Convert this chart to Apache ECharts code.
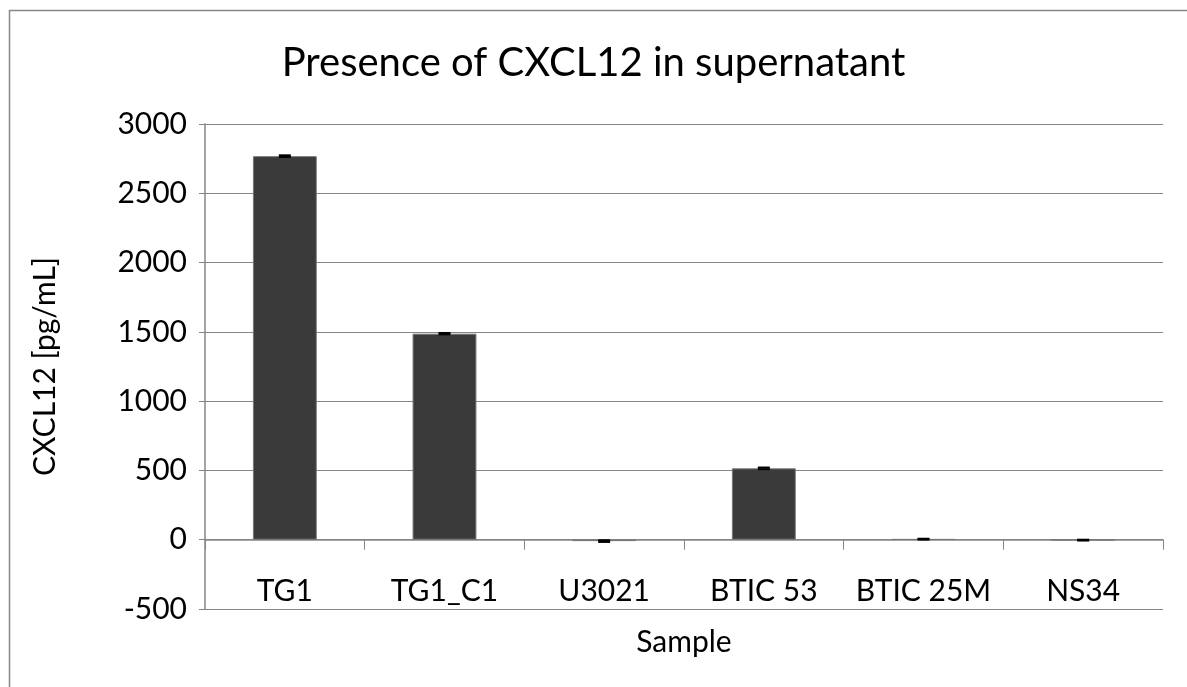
<!DOCTYPE html>
<html>
<head>
<meta charset="utf-8">
<script src="https://cdn.jsdelivr.net/npm/echarts@6/dist/echarts.min.js"></script>
<style>
  html, body { margin: 0; padding: 0; background: #fff; }
  #chart { width: 1187px; height: 687px; }
</style>
</head>
<body>
<div id="chart"></div>
<script>
var samples = ['TG1', 'TG1_C1', 'U3021', 'BTIC 53', 'BTIC 25M', 'NS34'];
var cxcl12 = [2768, 1487, -10, 515, 4, -3];
var errors = [6, 5, 6, 6, 3, 3];
var yTicks = { min: -500, max: 3000, interval: 500 };

var dom = document.getElementById('chart');
var myChart = echarts.init(dom);
var font = 'Lato, "Open Sans", sans-serif';

option = {
    animation: false,
    title: {
        text: 'Presence of CXCL12 in supernatant',
        left: 'center',
        top: 38,
        textStyle: { fontFamily: font, fontSize: 40, fontWeight: 'normal', color: '#000' }
    },
    graphic: [{
        type: 'rect',
        shape: { x: 9.5, y: 10.5, width: 1190, height: 700 },
        style: { fill: 'none', stroke: '#888', lineWidth: 1.5 },
        silent: true
    }],
    grid: { left: 205, right: 24, top: 124, bottom: 78, outerBoundsMode: 'none' },
    xAxis: {
        type: 'category',
        data: samples,
        name: 'Sample',
        nameLocation: 'middle',
        nameGap: 18,
        nameTextStyle: { fontFamily: font, fontSize: 30, color: '#000' },
        axisLine: { onZero: true, lineStyle: { color: '#868686', width: 1.5 } },
        axisTick: { show: true, length: 10, lineStyle: { color: '#868686' } },
        axisLabel: { interval: 0, fontFamily: font, fontSize: 30, color: '#000', margin: -33 }
    },
    yAxis: {
        type: 'value',
        min: yTicks.min,
        max: yTicks.max,
        interval: yTicks.interval,
        name: 'CXCL12 [pg/mL]',
        nameLocation: 'middle',
        nameGap: 145,
        nameTextStyle: { fontFamily: font, fontSize: 30, color: '#000' },
        axisLine: { show: true, lineStyle: { color: '#868686', width: 1.5 } },
        axisTick: { show: true, length: 6, lineStyle: { color: '#868686' } },
        axisLabel: { fontFamily: font, fontSize: 30, color: '#000', margin: 18, formatter: function (v) { return String(v); } },
        splitLine: { lineStyle: { color: '#868686', width: 1.2 } }
    },
    series: [{
        type: 'bar',
        data: cxcl12,
        barWidth: '40%',
        itemStyle: { color: '#3a3a3a', borderColor: '#777', borderWidth: 1 }
    }, {
        type: 'custom',
        data: cxcl12.map(function (v, i) { return [i, v, errors[i]]; }),
        z: 5,
        renderItem: function (params, api) {
            var x = api.value(0);
            var v = api.value(1);
            var e = api.value(2);
            var hi = api.coord([x, v + e]);
            var lo = api.coord([x, v - e]);
            var half = 6;
            return {
                type: 'group',
                children: [
                    { type: 'line', shape: { x1: hi[0] - half, y1: hi[1], x2: hi[0] + half, y2: hi[1] }, style: { stroke: '#000', lineWidth: 2 } },
                    { type: 'line', shape: { x1: lo[0] - half, y1: lo[1], x2: lo[0] + half, y2: lo[1] }, style: { stroke: '#000', lineWidth: 2 } },
                    { type: 'line', shape: { x1: hi[0], y1: hi[1], x2: lo[0], y2: lo[1] }, style: { stroke: '#000', lineWidth: 1 } }
                ]
            };
        }
    }]
};
myChart.setOption(option);
</script>
</body>
</html>
